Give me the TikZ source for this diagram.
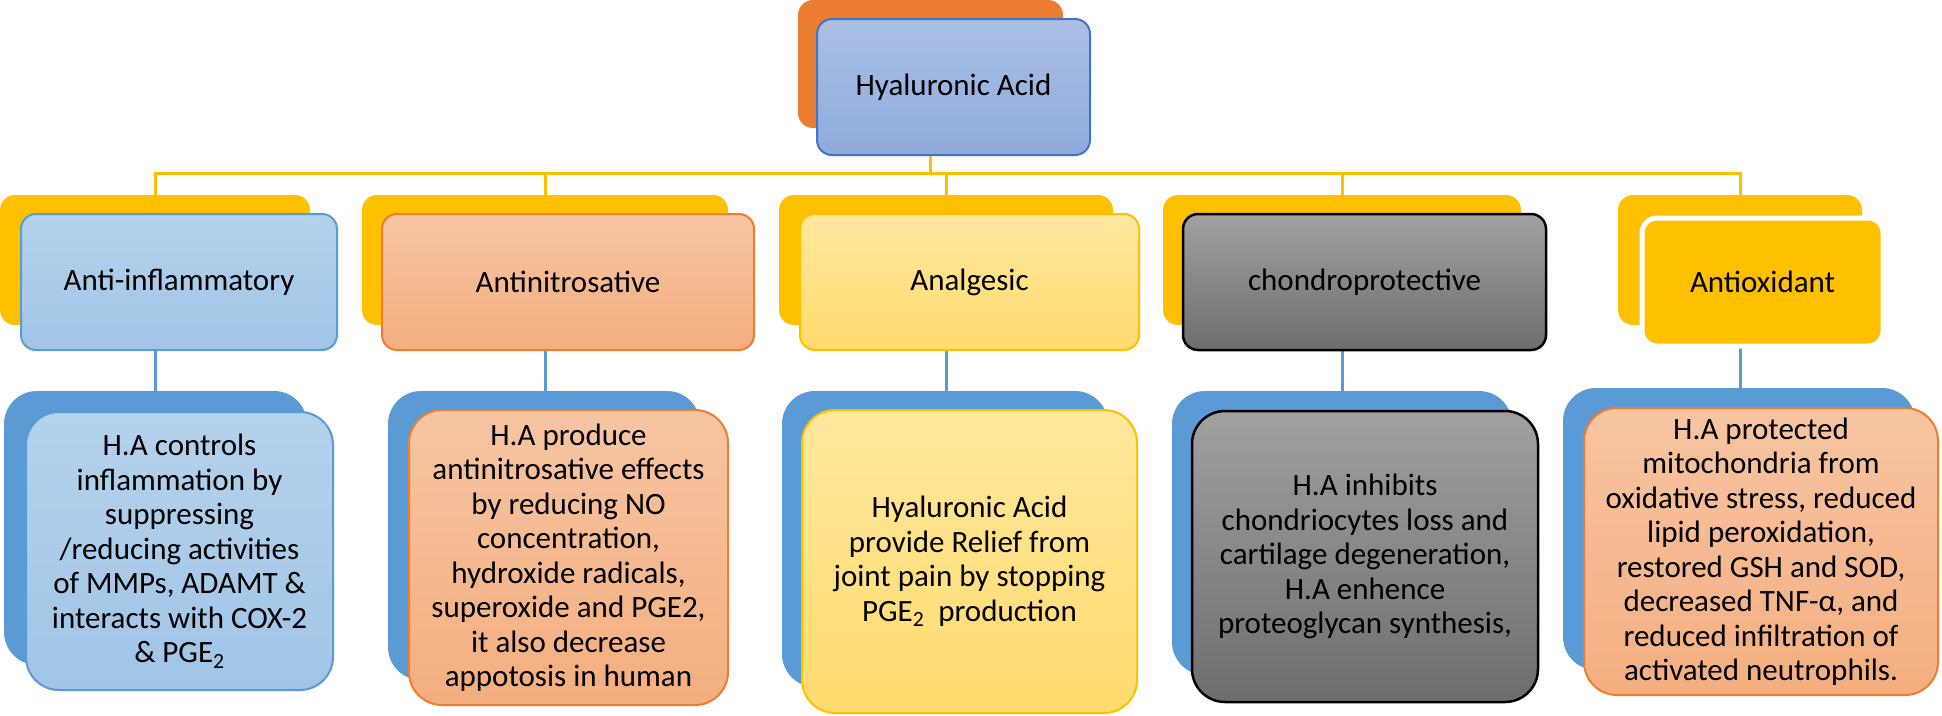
\documentclass[tikz,border=0pt]{standalone}
\usepackage{fontspec}
\setmainfont{Carlito}
\definecolor{cYel}{HTML}{FFC000}
\definecolor{cOra}{HTML}{ED7D31}
\definecolor{cBlu}{HTML}{5B9BD5}
\definecolor{cDBlu}{HTML}{4472C4}
\begin{document}
\begin{tikzpicture}[x=1pt,y=-1pt,
  base/.style={rectangle, inner sep=0pt, align=center, font=\fontsize{31}{34.5}\selectfont},
  lvA/.style={base, rounded corners=15pt},
  lvC/.style={base, rounded corners=33pt},
  bus/.style={draw=cYel, line width=3pt},
  link/.style={draw=cBlu, line width=3pt},
  fBlue/.style={top color=cBlu!45, bottom color=cBlu!58, draw=cBlu, line width=2pt},
  fSal/.style={top color=cOra!45, bottom color=cOra!62, draw=cOra, line width=2pt},
  fLYel/.style={top color=cYel!38, bottom color=cYel!57, draw=cYel, line width=2pt},
  fGray/.style={top color=black!37, bottom color=black!57, draw=black, line width=2.5pt},
  fTop/.style={top color=cDBlu!45, bottom color=cDBlu!60, draw=cDBlu, line width=2pt},
]
\useasboundingbox (0,0) rectangle (1942,715);
\coordinate (busY) at (0,173);

% ---- back boxes
\node[lvA, fill=cOra, minimum width=265pt, minimum height=128pt] (tB) at (930.5,64) {};
\node[lvA, fill=cYel, minimum width=310pt, minimum height=130pt] (b1) at (155,260) {};
\node[lvA, fill=cYel, minimum width=366pt, minimum height=130pt] (b2) at (545,260) {};
\node[lvA, fill=cYel, minimum width=334pt, minimum height=130pt] (b3) at (946,260) {};
\node[lvA, fill=cYel, minimum width=358pt, minimum height=130pt] (b4) at (1342,260) {};
\node[lvA, fill=cYel, minimum width=244pt, minimum height=130pt] (b5) at (1740,260) {};

\node[lvC, fill=cBlu, minimum width=303pt, minimum height=274pt] (c1) at (155.5,528) {};
\node[lvC, fill=cBlu, minimum width=312pt, minimum height=289pt] (c2) at (544,535.5) {};
\node[lvC, fill=cBlu, minimum width=326pt, minimum height=296pt] (c3) at (945,539) {};
\node[lvC, fill=cBlu, minimum width=340pt, minimum height=284pt] (c4) at (1342,533) {};
\node[lvC, fill=cBlu, minimum width=352pt, minimum height=282pt] (c5) at (1739,529) {};

% ---- connectors
\draw[bus] (tB.south) -- (tB.south |- busY);
\draw[bus] (b1.north) -- (b1.north |- busY) -- (b5.north |- busY) -- (b5.north);
\draw[bus] (b2.north) -- (b2.north |- busY);
\draw[bus] (b3.north) -- (b3.north |- busY);
\draw[bus] (b4.north) -- (b4.north |- busY);
\draw[link] (b1.south) -- (b1.south |- c1.north);
\draw[link] (b2.south) -- (b2.south |- c2.north);
\draw[link] (b3.south) -- (b3.south |- c3.north);
\draw[link] (b4.south) -- (b4.south |- c4.north);
\draw[link] (b5.south) -- (b5.south |- c5.north);

% ---- front boxes
\node[lvA, fTop, minimum width=273pt, minimum height=136pt] (tF) at (953.5,87) {Hyaluronic Acid};
\node[lvA, fBlue, minimum width=316pt, minimum height=136pt] (f1) at (179,282) {Anti-inflammatory};
\node[lvA, fSal, minimum width=372pt, minimum height=136pt] (f2) at (568,282) {Antinitrosative};
\node[lvA, fLYel, minimum width=339pt, minimum height=136pt] (f3) at (969.5,282) {Analgesic};
\node[lvA, fGray, minimum width=363pt, minimum height=136pt] (f4) at (1364.5,282) {chondroprotective};
\node[lvA, fill=cYel, draw=white, line width=5pt, minimum width=241pt, minimum height=128pt] (f5) at (1762.5,282) {Antioxidant};

\node[lvC, fBlue, minimum width=307pt, minimum height=278pt] (g1) at (179.5,551) {H.A controls\\inflammation by\\suppressing\\/reducing activities\\of MMPs, ADAMT \&\\interacts with COX-2\\\& PGE\textsubscript{2}};
\node[lvC, fSal, minimum width=319pt, minimum height=295pt] (g2) at (568.5,557.5) {H.A produce\\antinitrosative effects\\by reducing NO\\concentration,\\hydroxide radicals,\\superoxide and PGE2,\\it also decrease\\appotosis in human};
\node[lvC, fLYel, minimum width=335pt, minimum height=303pt] (g3) at (969.5,561.5) {Hyaluronic Acid\\provide Relief from\\joint pain by stopping\\PGE\textsubscript{2}\ \ production};
\node[lvC, fGray, minimum width=346pt, minimum height=291pt] (g4) at (1365,556.5) {H.A inhibits\\chondriocytes loss and\\cartilage degeneration,\\H.A enhence\\proteoglycan synthesis,};
\node[lvC, fSal, minimum width=354pt, minimum height=287pt] (g5) at (1761,551.5) {H.A protected\\mitochondria from\\oxidative stress, reduced\\lipid peroxidation,\\restored GSH and SOD,\\decreased TNF-α, and\\reduced infiltration of\\activated neutrophils.};
\end{tikzpicture}
\end{document}
